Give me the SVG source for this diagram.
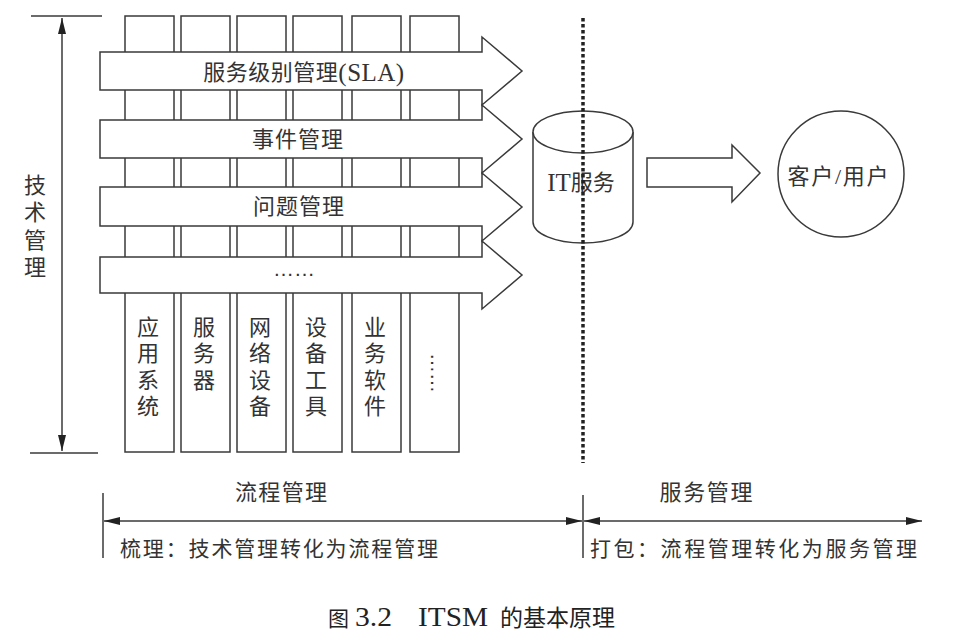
<svg xmlns="http://www.w3.org/2000/svg" width="958" height="633" viewBox="0 0 958 633">
<style>
.ln{stroke:#3a3a3a;stroke-width:1.5;fill:none}
.box{stroke:#3a3a3a;stroke-width:1.5;fill:#fff}
.t{font-family:"Liberation Serif","Noto Sans CJK SC",serif;font-size:22px;fill:#333;text-anchor:middle;dominant-baseline:central}
.tl{font-family:"Liberation Serif","Noto Sans CJK SC",serif;font-size:21px;fill:#333}
.lat{font-size:25px}
</style>
<defs>
<marker id="ah" viewBox="0 0 16 8" refX="16" refY="4" markerWidth="16" markerHeight="8" markerUnits="userSpaceOnUse" orient="auto-start-reverse">
<path d="M0,0 L16,4 L0,8 Z" fill="#222"/>
</marker>
</defs>
<rect width="958" height="633" fill="#fff"/>

<g id="columns">
<rect class="box" x="125" y="16" width="49" height="436"/>
<rect class="box" x="181" y="16" width="49" height="436"/>
<rect class="box" x="237" y="16" width="49" height="436"/>
<rect class="box" x="293" y="16" width="49" height="436"/>
<rect class="box" x="352" y="16" width="49" height="436"/>
<rect class="box" x="410" y="16" width="49" height="436"/>
</g>

<g id="col-labels" class="t">
<text x="148" y="327">应</text><text x="148" y="353">用</text><text x="148" y="380">系</text><text x="148" y="406">统</text>
<text x="204" y="327">服</text><text x="204" y="353">务</text><text x="204" y="380">器</text>
<text x="260" y="327">网</text><text x="260" y="353">络</text><text x="260" y="380">设</text><text x="260" y="406">备</text>
<text x="316" y="327">设</text><text x="316" y="353">备</text><text x="316" y="380">工</text><text x="316" y="406">具</text>
<text x="375" y="327">业</text><text x="375" y="353">务</text><text x="375" y="380">软</text><text x="375" y="406">件</text>
<text transform="translate(432,373) rotate(90)" x="0" y="1" style="font-family:'Liberation Sans',sans-serif;font-size:20px;dominant-baseline:auto">……</text>
</g>

<g id="arrow-sla">
<path class="box" d="M100,52 H482 V37 L522,71 L482,105 V90 H100 Z"/>
<text class="t" x="304" y="72" letter-spacing="0.5">服务级别管理<tspan class="lat">(SLA)</tspan></text>
</g>
<g id="arrow-event">
<path class="box" d="M100,120 H482 V105 L522,139 L482,173 V158 H100 Z"/>
<text class="t" x="298" y="139" letter-spacing="1">事件管理</text>
</g>
<g id="arrow-problem">
<path class="box" d="M100,187 H482 V173 L522,207 L482,241 V226 H100 Z"/>
<text class="t" x="299" y="206" letter-spacing="1">问题管理</text>
</g>
<g id="arrow-more">
<path class="box" d="M100,257 H482 V241 L522,275 L482,309 V293 H100 Z"/>
<text x="294" y="276" text-anchor="middle" style="font-family:'Liberation Sans',sans-serif;font-size:21px;fill:#333">……</text>
</g>

<g id="tech-mgmt">
<line class="ln" x1="31" y1="16" x2="102" y2="16"/>
<line class="ln" x1="30" y1="453" x2="98" y2="453"/>
<text class="t" x="35" y="185">技</text>
<text class="t" x="35" y="212">术</text>
<text class="t" x="35" y="240">管</text>
<text class="t" x="35" y="267">理</text>
</g>

<g id="it-service">
<path class="box" d="M533,132 V222 A50,21 0 0 0 633,222 V132"/>
<ellipse class="box" cx="583" cy="132" rx="50" ry="21"/>
<text class="t" x="581" y="182"><tspan class="lat">IT</tspan>服务</text>
</g>

<g id="customer">
<circle class="box" cx="841" cy="174" r="63"/>
<text class="t" x="838" y="176" textLength="101" lengthAdjust="spacing">客户/用户</text>
</g>

<g id="labels-bottom">
<text class="t" x="281" y="492" textLength="92" lengthAdjust="spacing">流程管理</text>
<text class="t" x="706" y="492" textLength="93" lengthAdjust="spacing">服务管理</text>
<text class="tl" x="120" y="556" textLength="318" lengthAdjust="spacing">梳理：技术管理转化为流程管理</text>
<text class="tl" x="590" y="556" textLength="327" lengthAdjust="spacing">打包：流程管理转化为服务管理</text>
</g>

<g id="connectors">
<line class="ln" x1="62" y1="18" x2="62" y2="451" marker-start="url(#ah)" marker-end="url(#ah)"/>
<line x1="583" y1="18" x2="583" y2="463" stroke="#222" stroke-width="3.5" stroke-dasharray="3.5 2.5"/>
<path class="box" d="M647,158 H732 V145 L760,173 L732,202 V187 H647 Z"/>
<line class="ln" x1="103" y1="493" x2="103" y2="558"/>
<line class="ln" x1="583" y1="495" x2="583" y2="558"/>
<line class="ln" x1="104" y1="521" x2="582" y2="521" marker-start="url(#ah)" marker-end="url(#ah)"/>
<line class="ln" x1="584" y1="521" x2="922" y2="521" marker-start="url(#ah)" marker-end="url(#ah)"/>
</g>

<g id="caption" style="font-family:'Liberation Serif','Noto Sans CJK SC',serif;fill:#222">
<text x="328" y="626" font-size="21">图</text>
<text x="355" y="626" font-size="27" textLength="37" lengthAdjust="spacingAndGlyphs">3.2</text>
<text x="418" y="626" font-size="27" textLength="70" lengthAdjust="spacingAndGlyphs">ITSM</text>
<text x="500" y="626" font-size="23" textLength="115" lengthAdjust="spacing">的基本原理</text>
</g>
</svg>
